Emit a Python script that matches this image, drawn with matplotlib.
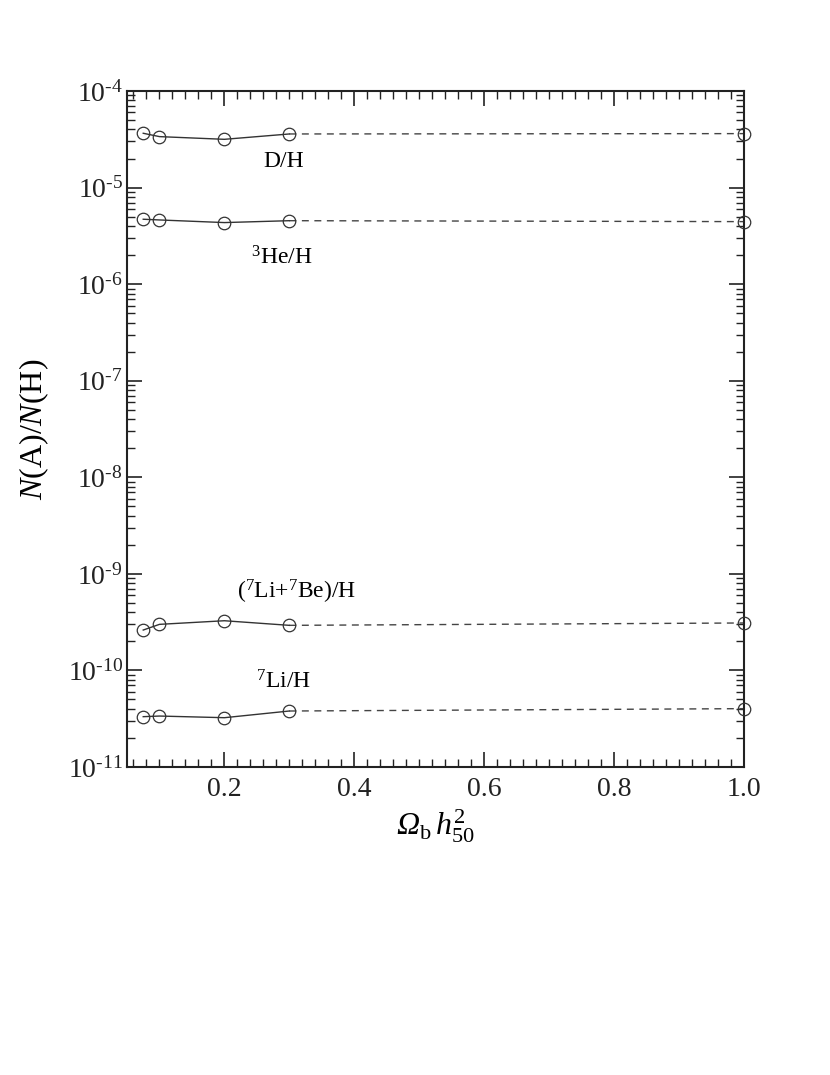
import matplotlib
matplotlib.use("Agg")
import matplotlib.pyplot as plt
from matplotlib.ticker import MultipleLocator, LogLocator, NullFormatter, FixedLocator

plt.rcParams['font.family'] = ['Liberation Serif', 'DejaVu Serif']
plt.rcParams['mathtext.fontset'] = 'custom'
plt.rcParams['mathtext.rm'] = 'Liberation Serif'
plt.rcParams['mathtext.it'] = 'Liberation Serif:italic'
plt.rcParams['mathtext.sf'] = 'Liberation Serif:italic'

# x values (Omega_b h50^2)
x_solid = [0.075, 0.1, 0.2, 0.3]
x_dash = [0.3, 1.0]

dh = [3.65e-5, 3.37e-5, 3.16e-5, 3.59e-5]
dh_end = 3.62e-5
he3 = [4.70e-6, 4.62e-6, 4.34e-6, 4.54e-6]
he3_end = 4.44e-6
libe = [2.62e-10, 3.00e-10, 3.27e-10, 2.93e-10]
libe_end = 3.10e-10
li7 = [3.32e-11, 3.37e-11, 3.24e-11, 3.80e-11]
li7_end = 4.02e-11

labels = ['D/H', r'$^{3}$He/H', r'($^{7}$Li+$^{7}$Be)/H', r'$^{7}$Li/H']
label_pos = [(0.291, 1.84e-5), (0.289, 1.87e-6), (0.311, 6.5e-10), (0.291, 7.6e-11)]

fig = plt.figure(figsize=(8.3, 10.75), dpi=100)
ax = fig.add_axes([127/830, 1 - 767/1075, (744 - 127)/830, (767 - 91)/1075])

series = [(dh, dh_end), (he3, he3_end), (libe, libe_end), (li7, li7_end)]
for ys, yend in series:
    ax.plot(x_solid, ys, '-', color='#333333', lw=1.0, marker='o', ms=9,
            mfc='none', mec='#333333', mew=0.9, zorder=3)
    ax.plot(x_dash, [ys[-1], yend], '--', color='#444444', lw=1.0,
            dashes=(5, 4), zorder=2)
    ax.plot([1.0], [yend], 'o', ms=9, mfc='none', mec='#333333', mew=0.9,
            clip_on=False, zorder=4)

for (lx, ly), t in zip(label_pos, labels):
    ax.text(lx, ly, t, fontsize=17, ha='center', va='center')

ax.set_yscale('log')
ax.set_xlim(0.05, 1.0)
ax.set_ylim(1e-11, 1e-4)

ax.xaxis.set_major_locator(FixedLocator([0.2, 0.4, 0.6, 0.8, 1.0]))
ax.set_xticklabels(['0.2', '0.4', '0.6', '0.8', '1.0'])
ax.xaxis.set_minor_locator(MultipleLocator(0.02))
ax.yaxis.set_minor_locator(LogLocator(base=10, subs=range(2, 10), numticks=100))
ax.yaxis.set_minor_formatter(NullFormatter())
yt = [10.0**k for k in range(-11, -3)]
ax.set_yticks(yt)
ax.set_yticklabels([r'10$^{\text{-}%d}$' % -k for k in range(-11, -3)])

ax.tick_params(which='both', direction='in', top=True, right=True, colors='#222222')
ax.tick_params(which='major', length=11, width=1.2, labelsize=20)
ax.tick_params(axis='y', which='major', pad=3)
ax.tick_params(axis='x', which='major', pad=7)
ax.tick_params(which='minor', length=6, width=1.0)
for s in ax.spines.values():
    s.set_linewidth(1.5)
    s.set_color('#222222')

ax.set_ylabel(r'$N$(A)/$N$(H)', fontsize=23, labelpad=12)
ax.set_xlabel('$\\mathsf{\u03a9}_{\\mathrm{b}}\\, h^{2}_{50}$', fontsize=23, labelpad=4)

fig.savefig('out.png', dpi=100)
